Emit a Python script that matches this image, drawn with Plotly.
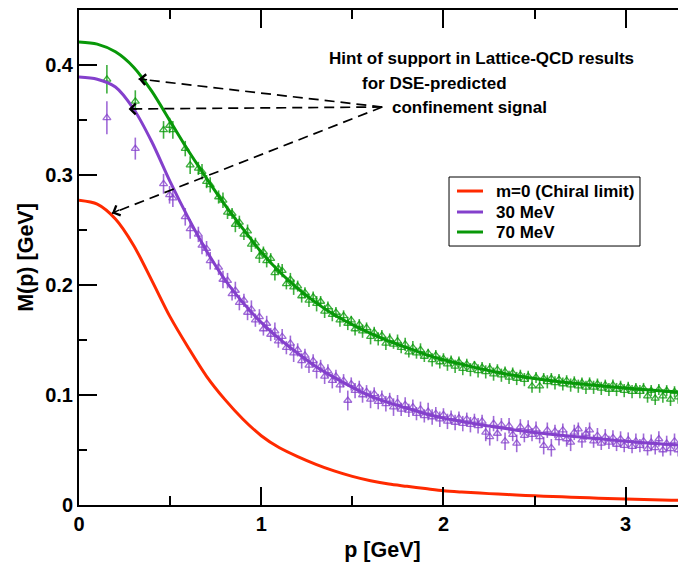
"""
Masse dynamique du quark M(p) : courbes DSE + points Lattice-QCD
"""

import plotly.graph_objects as go

# ─────────────────────────────────────────
# DONNEES
# ─────────────────────────────────────────

# courbes DSE (lues sur la figure, pas de 0.1 GeV)
curve_p = [0.0, 0.1, 0.2, 0.3, 0.4, 0.5, 0.6, 0.7, 0.8, 0.9, 1.0, 1.1, 1.2,
           1.3, 1.4, 1.5, 1.6, 1.7, 1.8, 1.9, 2.0, 2.1, 2.2, 2.3, 2.4,
           2.5, 2.6, 2.7, 2.8, 2.9, 3.0, 3.1, 3.2, 3.3, 3.4]
curve_chiral = [0.277, 0.2735, 0.260, 0.236, 0.204, 0.171, 0.143, 0.117, 0.096, 0.078, 0.063, 0.052, 0.044,
                0.037, 0.031, 0.026, 0.022, 0.019, 0.017, 0.015, 0.013, 0.0118, 0.0108, 0.0099, 0.0091,
                0.0084, 0.0077, 0.0071, 0.0065, 0.006, 0.0055, 0.005, 0.0046, 0.0042, 0.004]
curve_30 = [0.389, 0.387, 0.380, 0.360, 0.330, 0.294, 0.261, 0.231, 0.205, 0.184, 0.166, 0.151, 0.138,
            0.126, 0.116, 0.107, 0.099, 0.093, 0.088, 0.083, 0.079, 0.076, 0.073, 0.0705, 0.068,
            0.066, 0.064, 0.0625, 0.061, 0.0595, 0.058, 0.0567, 0.0555, 0.0543, 0.053]
curve_70 = [0.421, 0.419, 0.412, 0.398, 0.376, 0.349, 0.322, 0.297, 0.273, 0.251, 0.230, 0.212, 0.197,
            0.184, 0.173, 0.164, 0.156, 0.149, 0.143, 0.137, 0.132, 0.128, 0.124, 0.1205, 0.1175,
            0.115, 0.1128, 0.111, 0.1093, 0.1078, 0.1063, 0.105, 0.1037, 0.1025, 0.1013]

# points lattice (memes impulsions pour les deux masses)
lat_p = [
    0.153, 0.309, 0.464, 0.497, 0.515, 0.583, 0.610, 0.655, 0.675, 0.700, 0.720, 0.766, 0.790,
    0.815, 0.840, 0.858, 0.880, 0.905, 0.925, 0.946, 0.968, 0.990, 1.012,
    1.030, 1.052, 1.075, 1.094, 1.115, 1.138, 1.160, 1.178, 1.200, 1.222,
    1.240, 1.262, 1.285, 1.304, 1.326, 1.348, 1.366, 1.390, 1.410, 1.432,
    1.452, 1.475, 1.494, 1.515, 1.538, 1.556, 1.578, 1.600, 1.620, 1.642,
    1.662, 1.684, 1.705, 1.726, 1.748, 1.768, 1.790, 1.810, 1.832, 1.852,
    1.874, 1.895, 1.916, 1.938, 1.958, 1.980, 2.000, 2.022, 2.042, 2.064,
    2.085, 2.106, 2.128, 2.148, 2.170, 2.190, 2.212, 2.232, 2.254, 2.275,
    2.296, 2.318, 2.338, 2.360, 2.380, 2.402, 2.422, 2.444, 2.465, 2.486,
    2.508, 2.528, 2.550, 2.570, 2.592, 2.612, 2.634, 2.655, 2.676, 2.698,
    2.718, 2.740, 2.760, 2.782, 2.802, 2.824, 2.845, 2.866, 2.888, 2.908,
    2.930, 2.950, 2.972, 2.992, 3.014, 3.035, 3.056, 3.078, 3.098, 3.120,
    3.140, 3.162, 3.182, 3.204, 3.225, 3.246, 3.268, 3.288, 3.310, 3.330,
]

lat_70 = [
    0.387, 0.367, 0.341, 0.345, 0.341, 0.324, 0.309, 0.306, 0.303, 0.294, 0.291, 0.280, 0.277,
    0.266, 0.265, 0.255, 0.257, 0.246, 0.249, 0.237, 0.238, 0.226, 0.230,
    0.222, 0.224, 0.211, 0.215, 0.213, 0.201, 0.205, 0.198, 0.199, 0.190,
    0.193, 0.186, 0.189, 0.183, 0.185, 0.176, 0.180, 0.173, 0.175, 0.168,
    0.172, 0.165, 0.168, 0.160, 0.164, 0.158, 0.161, 0.153, 0.157, 0.151,
    0.154, 0.147, 0.151, 0.146, 0.149, 0.143, 0.146, 0.139, 0.143, 0.138,
    0.141, 0.135, 0.138, 0.132, 0.136, 0.130, 0.133, 0.128, 0.131, 0.126,
    0.130, 0.124, 0.128, 0.123, 0.127, 0.122, 0.125, 0.121, 0.124, 0.119,
    0.123, 0.118, 0.121, 0.116, 0.120, 0.115, 0.118, 0.114, 0.117, 0.108,
    0.116, 0.108, 0.115, 0.112, 0.115, 0.111, 0.114, 0.110, 0.113, 0.109,
    0.112, 0.108, 0.111, 0.107, 0.111, 0.107, 0.110, 0.106, 0.109, 0.105,
    0.109, 0.105, 0.108, 0.104, 0.107, 0.103, 0.106, 0.103, 0.106, 0.099,
    0.104, 0.097, 0.105, 0.099, 0.104, 0.096, 0.103, 0.098, 0.102, 0.097,
]
err_70 = [
    0.013, 0.010, 0.008, 0.007, 0.008, 0.007, 0.008, 0.006, 0.007, 0.006, 0.007, 0.006, 0.007,
    0.006, 0.005, 0.007, 0.006, 0.005, 0.006, 0.007, 0.005, 0.006, 0.005,
    0.006, 0.005, 0.007, 0.005, 0.006, 0.005, 0.006, 0.007, 0.005, 0.006,
    0.005, 0.006, 0.005, 0.007, 0.005, 0.006, 0.005, 0.006, 0.005, 0.006,
    0.005, 0.006, 0.004, 0.006, 0.005, 0.006, 0.005, 0.007, 0.005, 0.006,
    0.005, 0.006, 0.005, 0.004, 0.006, 0.005, 0.006, 0.005, 0.006, 0.005,
    0.006, 0.005, 0.004, 0.006, 0.005, 0.006, 0.005, 0.006, 0.005, 0.006,
    0.005, 0.006, 0.005, 0.006, 0.004, 0.006, 0.005, 0.006, 0.005, 0.006,
    0.005, 0.006, 0.005, 0.006, 0.005, 0.006, 0.005, 0.006, 0.005, 0.006,
    0.005, 0.006, 0.005, 0.006, 0.005, 0.006, 0.005, 0.006, 0.005, 0.006,
    0.005, 0.006, 0.005, 0.006, 0.005, 0.006, 0.005, 0.006, 0.005, 0.006,
    0.005, 0.006, 0.005, 0.006, 0.005, 0.006, 0.005, 0.006, 0.005, 0.006,
    0.005, 0.006, 0.005, 0.006, 0.005, 0.006, 0.005, 0.006, 0.005, 0.006,
]

lat_30 = [
    0.352, 0.324, 0.292, 0.282, 0.279, 0.262, 0.251, 0.246, 0.236, 0.233, 0.222, 0.216, 0.205,
    0.204, 0.192, 0.195, 0.184, 0.186, 0.175, 0.178, 0.168, 0.171, 0.160,
    0.165, 0.155, 0.158, 0.149, 0.153, 0.143, 0.147, 0.138, 0.141, 0.131,
    0.136, 0.127, 0.131, 0.123, 0.126, 0.117, 0.122, 0.113, 0.117, 0.109,
    0.113, 0.095, 0.110, 0.104, 0.107, 0.100, 0.103, 0.096, 0.101, 0.094,
    0.098, 0.092, 0.096, 0.089, 0.093, 0.087, 0.091, 0.086, 0.089, 0.083,
    0.087, 0.081, 0.085, 0.080, 0.083, 0.078, 0.082, 0.076, 0.080, 0.075,
    0.079, 0.074, 0.078, 0.073, 0.077, 0.072, 0.076, 0.066, 0.062, 0.074,
    0.065, 0.073, 0.058, 0.072, 0.064, 0.056, 0.071, 0.063, 0.070, 0.064,
    0.069, 0.062, 0.054, 0.068, 0.052, 0.067, 0.061, 0.068, 0.060, 0.057,
    0.066, 0.069, 0.059, 0.065, 0.068, 0.058, 0.063, 0.056, 0.062, 0.057,
    0.061, 0.055, 0.060, 0.054, 0.059, 0.053, 0.058, 0.054, 0.058, 0.051,
    0.057, 0.052, 0.060, 0.050, 0.056, 0.051, 0.058, 0.050, 0.055, 0.049,
]
err_30 = [
    0.015, 0.010, 0.009, 0.008, 0.008, 0.008, 0.009, 0.007, 0.008, 0.007, 0.008, 0.007, 0.008,
    0.007, 0.006, 0.008, 0.007, 0.006, 0.007, 0.008, 0.006, 0.007, 0.006,
    0.007, 0.006, 0.008, 0.006, 0.007, 0.006, 0.007, 0.008, 0.006, 0.007,
    0.006, 0.007, 0.006, 0.008, 0.006, 0.007, 0.006, 0.007, 0.006, 0.007,
    0.006, 0.009, 0.006, 0.007, 0.006, 0.007, 0.006, 0.008, 0.006, 0.007,
    0.006, 0.007, 0.006, 0.008, 0.007, 0.006, 0.007, 0.006, 0.007, 0.006,
    0.007, 0.006, 0.008, 0.007, 0.006, 0.007, 0.006, 0.007, 0.006, 0.007,
    0.006, 0.007, 0.006, 0.007, 0.006, 0.007, 0.006, 0.008, 0.008, 0.007,
    0.007, 0.006, 0.008, 0.007, 0.006, 0.008, 0.007, 0.006, 0.007, 0.006,
    0.007, 0.006, 0.008, 0.007, 0.008, 0.006, 0.007, 0.006, 0.007, 0.008,
    0.007, 0.006, 0.007, 0.006, 0.007, 0.006, 0.007, 0.006, 0.007, 0.006,
    0.007, 0.006, 0.007, 0.006, 0.007, 0.006, 0.007, 0.006, 0.007, 0.006,
    0.007, 0.006, 0.007, 0.006, 0.007, 0.006, 0.007, 0.006, 0.007, 0.006,
]

legend_labels = ["m=0 (Chiral limit)", "30 MeV", "70 MeV"]
note_lines = ["Hint of support in Lattice-QCD results",
              "for DSE-predicted",
              "confinement signal"]

# ─────────────────────────────────────────
# STYLE
# ─────────────────────────────────────────

FONT = "Liberation Sans"
RED = "#ff2a00"
PURPLE = "#8440cc"
GREEN = "#089808"
PURPLE_PTS = "rgba(132,64,204,0.78)"
GREEN_PTS = "rgba(8,152,8,0.78)"

# la page html ajoute ~8px de marge (body) : on compense dans la taille
FIG_W, FIG_H = 678, 560

# ─────────────────────────────────────────
# FIGURE
# ─────────────────────────────────────────

fig = go.Figure()

# points lattice (sous les courbes)
for vals, errs, col in [(lat_30, err_30, PURPLE_PTS), (lat_70, err_70, GREEN_PTS)]:
    fig.add_trace(go.Scatter(
        x=lat_p, y=vals, mode="markers",
        marker=dict(symbol="triangle-up-open", size=7, color=col, line=dict(width=1.3, color=col)),
        error_y=dict(type="data", array=errs, visible=True, width=0, thickness=1.6, color=col),
        showlegend=False, hoverinfo="skip",
    ))

# courbes DSE
curves = [(curve_chiral, RED, "y2"), (curve_30, PURPLE, "y"), (curve_70, GREEN, "y")]
for (vals, col, axis), name in zip(curves, legend_labels):
    fig.add_trace(go.Scatter(
        x=curve_p, y=vals, mode="lines", name=name, yaxis=axis,
        line=dict(color=col, width=3, shape="spline", smoothing=0.8),
        showlegend=False,
    ))

# legende dessinee a la main (boite compacte comme l'original)
fig.add_shape(type="rect", xref="paper", yref="paper", x0=0.6096, x1=0.9242, y0=0.5232, y1=0.6626,
              line=dict(color="black", width=1), fillcolor="white", layer="above")
for (vals, col, axis), name, ly in zip(curves, legend_labels, [0.6343, 0.5919, 0.5515]):
    fig.add_shape(type="line", xref="paper", yref="paper", x0=0.6227, x1=0.6656, y0=ly, y1=ly,
                  line=dict(color=col, width=3), layer="above")
    fig.add_annotation(x=0.6837, y=ly, xref="paper", yref="paper", text=name,
                       showarrow=False, xanchor="left", yanchor="middle",
                       font=dict(family=FONT, size=17, color="black", weight="bold"))

# fleches en pointilles vers le bas impulsion
tail = (1.664, 0.3618)
tips = [((0.327, 0.3873), 10, 1), ((0.272, 0.360), 10, 0), ((0.181, 0.2652), 9, -4)]
for (tx, ty), ax, ay in tips:
    fig.add_shape(type="line", x0=tail[0], y0=tail[1], x1=tx, y1=ty,
                  xref="x", yref="y", line=dict(color="black", width=1.7, dash="10px,6px"))
    fig.add_annotation(x=tx, y=ty, ax=ax, ay=ay, xref="x", yref="y",
                       showarrow=True, arrowhead=4, arrowsize=1.5, arrowwidth=1.4,
                       arrowcolor="black", text="")

# texte explicatif
for txt, px, py in zip(note_lines, [0.4086, 0.4629, 0.5124], [0.903, 0.8525, 0.804]):
    fig.add_annotation(x=px, y=py, xref="paper", yref="paper", text=txt,
                       showarrow=False, xanchor="left", yanchor="middle",
                       font=dict(family=FONT, size=17, color="black", weight="bold"))

tick_font = dict(family=FONT, size=20, color="black", weight="bold")
title_font = dict(family=FONT, size=21.5, color="black", weight="bold")

fig.update_layout(
    width=FIG_W, height=FIG_H,
    margin=dict(l=71, r=0, t=2, b=63),
    plot_bgcolor="white", paper_bgcolor="white",
    xaxis=dict(
        range=[0, 3.331], dtick=1, ticks="inside", ticklen=18, tickwidth=2,
        tickcolor="black", showline=True, linewidth=2, linecolor="black",
        mirror="ticks", showgrid=False, zeroline=False, tickfont=tick_font,
        minor=dict(dtick=0.5, ticks="inside", ticklen=9, tickwidth=2, tickcolor="black"),
        title=dict(text="p [GeV]", font=title_font, standoff=8),
        automargin=False,
    ),
    yaxis=dict(
        range=[0, 0.45], dtick=0.1, ticks="inside", ticklen=18, tickwidth=2,
        tickcolor="black", showline=True, linewidth=2, linecolor="black",
        showgrid=False, zeroline=False, tickfont=tick_font, tickformat=".1~f",
        minor=dict(dtick=0.05, ticks="inside", ticklen=8, tickwidth=2, tickcolor="black"),
        title=dict(text="M(p) [GeV]", font=title_font, standoff=6),
        automargin=False,
    ),
    yaxis2=dict(
        overlaying="y", side="right", range=[0, 0.45], dtick=0.1,
        ticks="inside", ticklen=6, tickwidth=2, tickcolor="black",
        showticklabels=False, showline=False, showgrid=False, zeroline=False,
        automargin=False,
    ),
    showlegend=False,
)

fig.write_html("out.html")
